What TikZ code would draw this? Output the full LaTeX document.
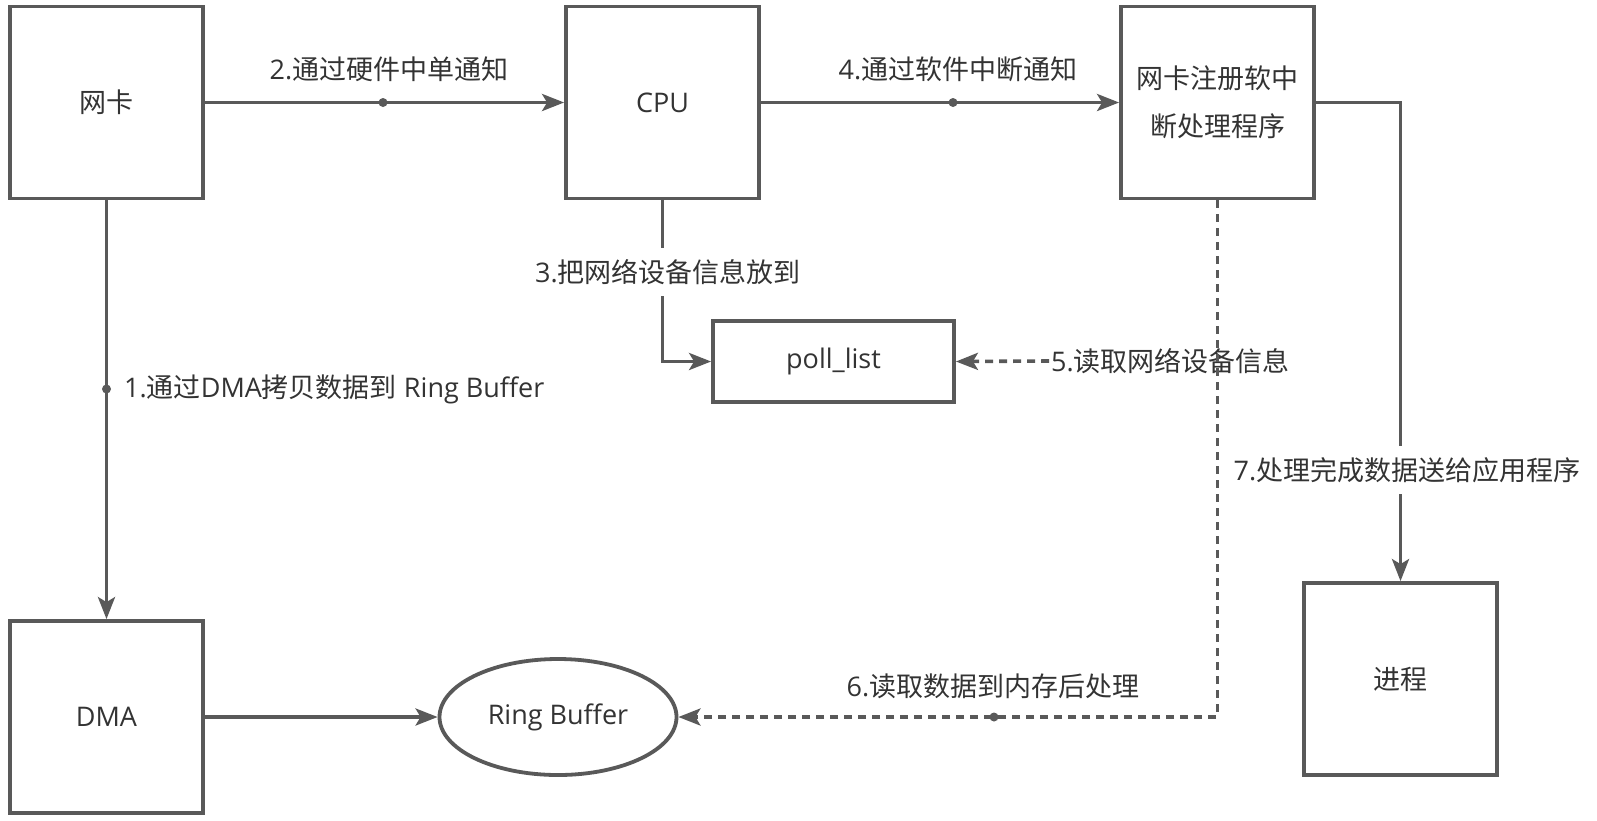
\documentclass[tikz,border=0pt]{standalone}
\usepackage{fontspec}
\setmainfont{Open Sans}
\newfontfamily\zhfont{Noto Sans CJK SC}
\newcommand\zh[1]{{\zhfont #1}}
\usetikzlibrary{arrows.meta,shapes.geometric,calc}
\definecolor{ln}{HTML}{595959}
\definecolor{tx}{HTML}{333333}
\begin{document}
\begin{tikzpicture}[x=1pt,y=-1pt,
  every node/.style={text=tx,font=\fontsize{27pt}{48pt}\selectfont},
  box/.style={draw=ln,line width=3.8pt,fill=white,minimum width=193pt,minimum height=192pt,inner sep=0pt,align=center},
  conn/.style={draw=ln,line width=3.6pt,-{Stealth[length=22pt,width=17pt,inset=5pt]}},
  dsh/.style={dash pattern=on 8pt off 6pt},
  lbl/.style={inner sep=2pt},
  cut/.style={fill=white,inner xsep=3pt,inner ysep=11pt},
  dot/.style={fill=ln}]
\useasboundingbox (0,0) rectangle (1597,820);

% nodes
\node[box] (wk)   at (106.5,102.5) {\zh{网卡}};
\node[box] (cpu)  at (662.5,102.5) {CPU};
\node[box] (isr)  at (1217.5,102.5) {\zh{网卡注册软中}\\\zh{断处理程序}};
\node[box,minimum width=241pt,minimum height=81pt] (poll) at (833.5,361.5) {poll\_list};
\node[box] (dma)  at (106.5,717) {DMA};
\node[draw=ln,line width=3.8pt,fill=white,ellipse,minimum width=237pt,minimum height=116pt,inner sep=0pt] (rb) at (558,717) {Ring Buffer};
\node[box] (proc) at (1400.5,679) {\zh{进程}};

% 1
\draw[conn] (wk.south) -- (dma.north);
\fill[dot] (106.5,389) circle[radius=4.5pt];
\node[lbl,anchor=west] (l1) at (122,389) {1.\zh{通过}DMA\zh{拷贝数据到} Ring Buffer};

% DMA -> Ring Buffer
\draw[conn] (dma.east) -- (rb.west);

% 2
\draw[conn] (wk.east) -- (cpu.west);
\fill[dot] (383,102.5) circle[radius=4.5pt];
\node[lbl] (l2) at (389,69) {2.\zh{通过硬件中单通知}};

% 3
\draw[conn] (cpu.south) |- (poll.west);
\node[cut] (l3) at (668,272) {3.\zh{把网络设备信息放到}};

% 4
\draw[conn] (cpu.east) -- (isr.west);
\fill[dot] (953,102.5) circle[radius=4.5pt];
\node[lbl] (l4) at (958,69) {4.\zh{通过软件中断通知}};

% 5
\node[lbl,anchor=west] (l5) at (1049,361) {5.\zh{读取网络设备信息}};
\draw[conn,dsh] (l5.west) -- (poll.east);

% 6
\coordinate (c6) at (isr.south |- rb.east);
\draw[conn,dsh] (isr.south) -- (c6) -- (rb.east);
\fill[dot] (994,717) circle[radius=4.5pt];
\node[lbl] (l6) at (993,686) {6.\zh{读取数据到内存后处理}};

% 7
\draw[conn] (isr.east) -| (proc.north);
\node[cut] (l7) at (1407,470) {7.\zh{处理完成数据送给应用程序}};
\end{tikzpicture}
\end{document}
